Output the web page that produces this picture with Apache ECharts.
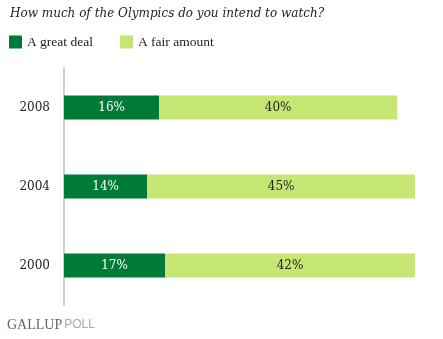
<!DOCTYPE html>
<html><head><meta charset="utf-8">
<script src="https://cdn.jsdelivr.net/npm/echarts@6/dist/echarts.min.js"></script>
<style>html,body{margin:0;padding:0;background:#fff}#c{width:443px;height:339px}</style>
</head><body><div id="c"></div>
<script>
const categories = ['2000', '2004', '2008'];
const greatDeal = [17, 14, 16];
const fairAmount = [42, 45, 40];
const seriesNames = ['A great deal', 'A fair amount'];
const serif = 'DejaVu Serif';
const chart = echarts.init(document.getElementById('c'));
chart.setOption({
  animation: false,
  title: [{
    text: 'How much of the Olympics do you intend to watch?',
    left: 5, top: 3,
    textStyle: {fontFamily: serif, fontStyle: 'italic', fontWeight: 'normal', fontSize: 12, color: '#222'}
  }, {
    text: '{a|GALLUP}{b|POLL}',
    left: 7, top: 318, padding: 0,
    textStyle: {rich: {
      a: {fontFamily: 'Liberation Serif', fontSize: 14, fontWeight: 'normal', color: '#5d6b5d'},
      b: {fontFamily: 'Liberation Sans', fontSize: 12, fontWeight: 'normal', color: '#aaa', padding: [0, 0, 0, 2]}
    }}
  }],
  legend: {
    left: 9, top: 35, padding: 0, itemWidth: 13, itemHeight: 13, itemGap: 27,
    icon: 'rect',
    textStyle: {fontFamily: 'Liberation Serif', fontSize: 13.5, color: '#222'},
    data: seriesNames
  },
  grid: {left: 64, right: 28, top: 68, bottom: 34},
  xAxis: {type: 'value', min: 0, max: 59, show: false},
  yAxis: {
    type: 'category', data: categories,
    axisLine: {show: true, lineStyle: {color: '#d0d0cc', width: 2}},
    axisTick: {show: false},
    axisLabel: {fontFamily: serif, fontSize: 12, color: '#222', margin: 14}
  },
  series: [{
    name: seriesNames[0], type: 'bar', stack: 's', data: greatDeal, barWidth: 24,
    itemStyle: {color: '#007a37'},
    label: {show: true, position: 'inside', formatter: '{c}%', color: '#fff', fontFamily: serif, fontSize: 12}
  }, {
    name: seriesNames[1], type: 'bar', stack: 's', data: fairAmount, barWidth: 24,
    itemStyle: {color: '#c6e673'},
    label: {show: true, position: 'inside', formatter: '{c}%', color: '#222', fontFamily: serif, fontSize: 12}
  }]
});
</script></body></html>
